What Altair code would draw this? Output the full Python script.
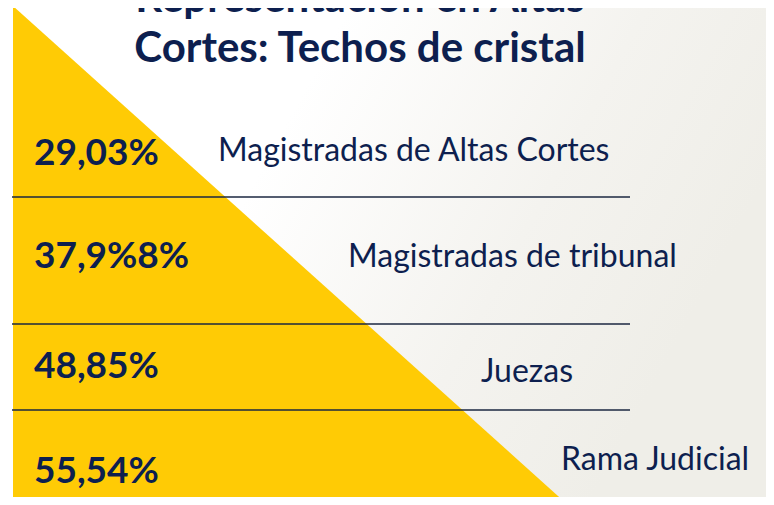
import altair as alt
import pandas as pd

# ---- data ----
categories = ["Magistradas de Altas Cortes", "Magistradas de tribunal", "Juezas", "Rama Judicial"]
value_labels = ["29,03%", "37,9%8%", "48,85%", "55,54%"]
title_lines = ["Representación en Altas", "Cortes: Techos de cristal"]

# ---- layout (reference pixel space) ----
W, H = 758, 489
X0, Y0 = 8, 8
row_value_baseline = [165, 268, 378, 483]
row_cat_baseline = [161, 267, 382, 470]
row_cat_x = [218, 348, 481, 561]
value_x = 34
divider_y = [197, 324, 410]
divider_x = (12, 630)
tri = {"apex_y": 6, "left_x": 13, "bottom_y": 505, "bottom_x": 568}
title_x = 360
title_baselines = [12, 62]

NAVY = "#0d1f4f"
YELLOW = "#ffcb05"
FONT = "Lato"

xs = alt.Scale(domain=[X0, X0 + W], nice=False, zero=False)
ys = alt.Scale(domain=[Y0, Y0 + H], nice=False, zero=False, reverse=True)

bg = alt.Chart(pd.DataFrame({"a": [0]})).mark_rect(
    color=alt.Gradient(
        gradient="linear",
        stops=[alt.GradientStop(color="#ffffff", offset=0.0),
               alt.GradientStop(color="#ffffff", offset=0.40),
               alt.GradientStop(color="#f4f3ef", offset=0.75),
               alt.GradientStop(color="#efeee8", offset=1.0)],
        x1=0, x2=1, y1=0, y2=0.35,
    )
).encode(x=alt.value(0), x2=alt.value(W), y=alt.value(0), y2=alt.value(H))

tri_df = pd.DataFrame({
    "x": [tri["left_x"], tri["bottom_x"]],
    "y": [tri["apex_y"], tri["bottom_y"]],
    "y2": [tri["bottom_y"], tri["bottom_y"]],
})
triangle = alt.Chart(tri_df).mark_area(color=YELLOW, opacity=1, clip=True).encode(
    x=alt.X("x:Q", scale=xs, axis=None),
    y=alt.Y("y:Q", scale=ys, axis=None),
    y2="y2:Q",
)

rules_df = pd.DataFrame({"y": divider_y, "x": [divider_x[0]] * 3, "x2": [divider_x[1]] * 3})
rules = alt.Chart(rules_df).mark_rule(color="#1b2740", strokeWidth=1.3).encode(
    x=alt.X("x:Q", scale=xs, axis=None), x2="x2:Q",
    y=alt.Y("y:Q", scale=ys, axis=None),
)

vals_df = pd.DataFrame({"label": value_labels, "x": [value_x] * 4, "y": row_value_baseline})
vals = alt.Chart(vals_df).mark_text(
    font=FONT, fontSize=37, fontWeight="bold", color=NAVY, align="left", baseline="alphabetic"
).encode(x=alt.X("x:Q", scale=xs, axis=None), y=alt.Y("y:Q", scale=ys, axis=None), text="label:N")

cats_df = pd.DataFrame({"label": categories, "x": row_cat_x, "y": row_cat_baseline})
cats = alt.Chart(cats_df).mark_text(
    font=FONT, fontSize=32, color=NAVY, align="left", baseline="alphabetic"
).encode(x=alt.X("x:Q", scale=xs, axis=None), y=alt.Y("y:Q", scale=ys, axis=None), text="label:N")

title_df = pd.DataFrame({"label": title_lines, "x": [title_x] * 2, "y": title_baselines})
title = alt.Chart(title_df).mark_text(
    font=FONT, fontSize=42, fontWeight="bold", color=NAVY, align="center", baseline="alphabetic"
).encode(x=alt.X("x:Q", scale=xs, axis=None), y=alt.Y("y:Q", scale=ys, axis=None), text="label:N")

chart = alt.layer(bg, triangle, rules, vals, cats, title).properties(
    width=W, height=H, padding=0, autosize=alt.AutoSizeParams(type="none")
).configure_view(stroke=None).configure(background="#ffffff")

chart.save("out.html", embed_options={"renderer": "svg", "actions": False})
